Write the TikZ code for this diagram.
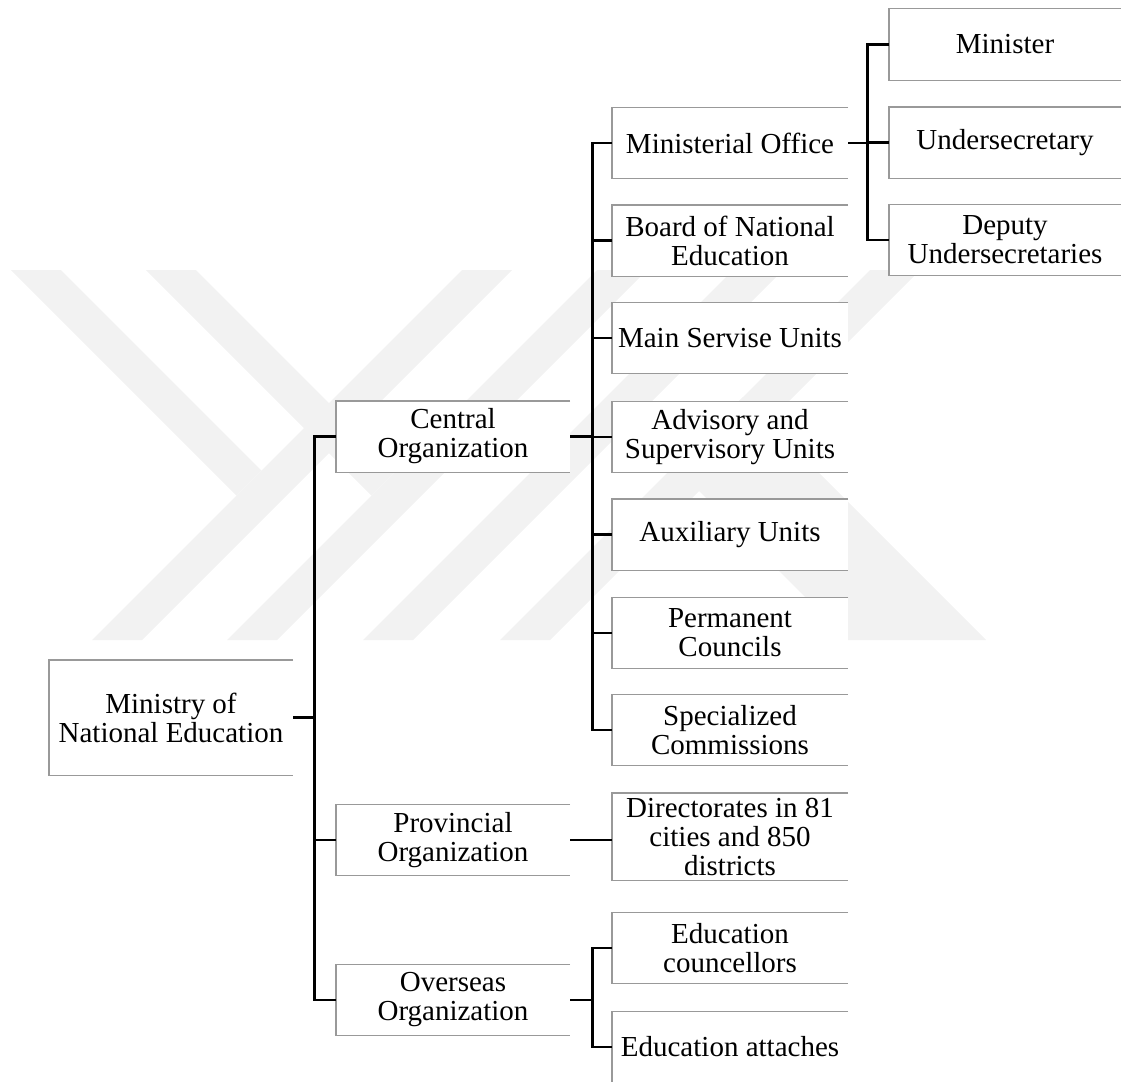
\documentclass[tikz,border=0pt]{standalone}
\usepackage{fontspec}
\setmainfont{Liberation Serif}
\begin{document}
\begin{tikzpicture}[x=1pt,y=-1pt]
	\useasboundingbox(0,0)rectangle(1121,1081);
	\tikzset{s/.style={fill=white,inner sep=0pt,align=center,minimum width=236pt,minimum height=71pt,font=\fontsize{29}{29}\selectfont},
	g/.style={draw=black!40,line width=1.4pt},
	k/.style={line width=2.6pt},
	w/.style={black!5}}
	% watermark
	\begin{scope}
	\clip(0,270)rectangle(1121,640);
	\foreach \c in {732,867,1003,1140}
	\fill[w](\c-270,270)--(\c-220,270)--(\c-590,640)--(\c-640,640)--cycle;
	\fill[w](11,270)--(61,270)--(261.5,470.5)--(236.5,495.5)--cycle;
	\fill[w](146,270)--(196,270)--(396.5,470.5)--(371.5,495.5)--cycle;
	\fill[w](674,466)--(743,397)--(986,640)--(848,640)--cycle;
	\end{scope}
	% boxes
	\path(171,717.5)node[s,minimum width=244pt,minimum height=115pt](M){Ministry of\\National Education};
	\path(453,436.5)node[s,minimum width=234pt](C){Central\\Organization}
	(453,840)node[s,minimum width=234pt](P){Provincial\\Organization}
	(453,1000)node[s,minimum width=234pt](O){Overseas\\Organization};
	\path(730,143)node[s](c1){Ministerial Office}
	(730,240.5)node[s](c2){Board of National\\Education}
	(730,338)node[s](c3){Main Servise Units}
	(730,437)node[s](c4){Advisory and\\Supervisory Units}
	(730,534.5)node[s](c5){Auxiliary Units}
	(730,633)node[s](c6){Permanent\\Councils}
	(730,730)node[s](c7){Specialized\\Commissions};
	\path(730,836.5)node[s,minimum height=87pt](p1){Directorates in 81\\cities and 850\\districts}
	(730,948)node[s](o1){Education\\councellors}
	(730,1047)node[s](o2){Education attaches};
	\path(1005,44.5)node[s,minimum width=232pt](m1){Minister}
	(1005,142.5)node[s,minimum width=232pt](m2){Undersecretary}
	(1005,240)node[s,minimum width=232pt](m3){Deputy\\Undersecretaries};
	\foreach \n in {M,C,P,O,c1,c2,c3,c4,c5,c6,c7,p1,o1,o2,m1,m2,m3}
	\draw[g](\n.north east)--(\n.north west)--(\n.south west)--(\n.south east);
	% links
	\foreach \x/\y in {M/C,M/P,M/O}
	\draw[k](\x.east)--++(21,0)|-(\y.west);
	\foreach \y in {c1,c2,c3,c4,c5,c6,c7}
	\draw[k](C.east)--++(22,0)|-(\y.west);
	\foreach \y in {o1,o2}
	\draw[k](O.east)--++(22,0)|-(\y.west);
	\foreach \y in {m1,m2,m3}
	\draw[k](c1.east)--++(19,0)|-(\y.west);
	\draw[k](P.east)--(P.east-|p1.west);
\end{tikzpicture}
\end{document}
